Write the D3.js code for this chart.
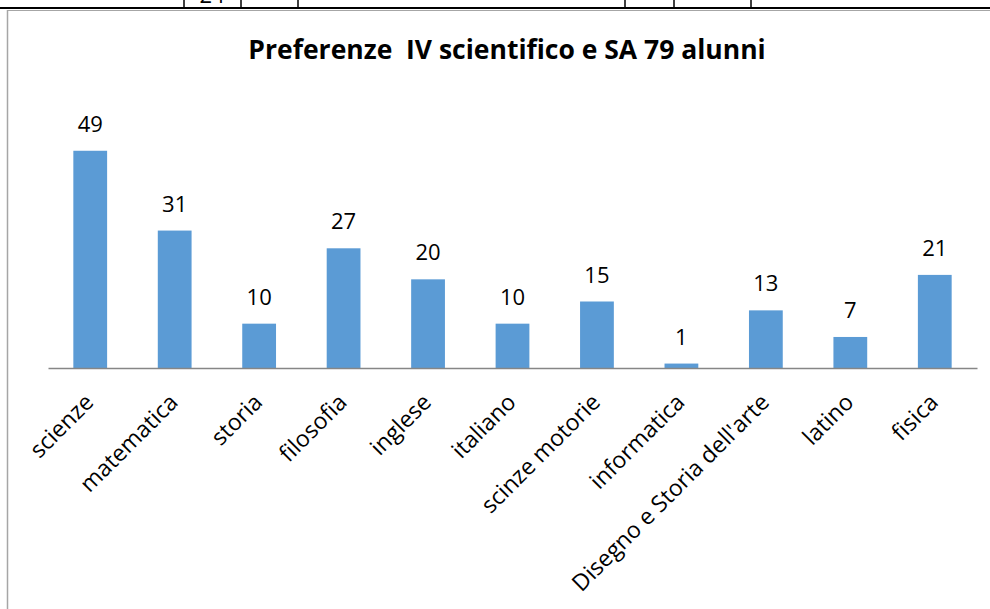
<!DOCTYPE html>
<html>
<head>
<script src="https://d3js.org/d3.v7.min.js"></script>
<style>
  body { margin: 0; background: white; }
  svg { display: block; }
</style>
</head>
<body>
<div id="chart"></div>
<script>
// data
const categories = ["scienze", "matematica", "storia", "filosofia", "inglese", "italiano",
                    "scinze motorie", "informatica", "Disegno e Storia dell'arte", "latino", "fisica"];
const values = [49, 31, 10, 27, 20, 10, 15, 1, 13, 7, 21];
const title = "Preferenze  IV scientifico e SA 79 alunni";

// bits of the table above the chart (page cut off)
const tableCols = [184, 241, 298, 625, 674, 751];

const W = 990, H = 609;
const svg = d3.select("#chart").append("svg")
  .attr("width", W)
  .attr("height", H);

// table fragment at the top
svg.append("line")
  .attr("x1", 0).attr("x2", W).attr("y1", 8).attr("y2", 8)
  .attr("stroke", "#000").attr("stroke-width", 2);
svg.selectAll(".tcol").data(tableCols).enter().append("line")
  .attr("x1", d => d).attr("x2", d => d).attr("y1", 0).attr("y2", 8)
  .attr("stroke", "#000").attr("stroke-width", 1.5);
svg.append("text")
  .attr("x", 212).attr("y", 3)
  .attr("text-anchor", "middle")
  .style("font-family", "Open Sans")
  .style("font-size", "22px")
  .text("24");

// chart frame (only top and left visible)
svg.append("line")
  .attr("x1", 7).attr("x2", W).attr("y1", 10.5).attr("y2", 10.5)
  .attr("stroke", "#a6a6a6").attr("stroke-width", 1);
svg.append("line")
  .attr("x1", 7.5).attr("x2", 7.5).attr("y1", 10).attr("y2", H)
  .attr("stroke", "#a6a6a6").attr("stroke-width", 1.5);

// title
svg.append("text")
  .attr("x", 507).attr("y", 59)
  .attr("text-anchor", "middle")
  .style("font-family", "Open Sans")
  .style("font-weight", "bold")
  .style("font-size", "26.5px")
  .style("white-space", "pre")
  .text(title);

// scales
const x = d3.scaleBand()
  .domain(categories)
  .range([48, 977])
  .paddingInner(0.6)
  .paddingOuter(0.3);

const y = d3.scaleLinear()
  .domain([0, 60])
  .range([368, 102]);

// bars
svg.append("g")
  .selectAll("rect")
  .data(values)
  .enter().append("rect")
  .attr("x", (d, i) => x(categories[i]))
  .attr("y", d => y(d))
  .attr("width", x.bandwidth())
  .attr("height", d => y(0) - y(d))
  .attr("fill", "#5b9bd5");

// value labels
svg.append("g")
  .selectAll("text")
  .data(values)
  .enter().append("text")
  .attr("x", (d, i) => x(categories[i]) + x.bandwidth() / 2)
  .attr("y", d => y(d) - 19)
  .attr("text-anchor", "middle")
  .style("font-family", "Open Sans")
  .style("font-size", "22px")
  .style("fill", "#000")
  .text(d => d);

// x axis
const xAxis = svg.append("g")
  .attr("transform", `translate(0,${y(0)})`)
  .call(d3.axisBottom(x).tickSize(0).tickSizeOuter(0));

xAxis.select(".domain")
  .attr("stroke", "#868686")
  .attr("stroke-width", 1.5);

xAxis.selectAll("text")
  .attr("text-anchor", "end")
  .attr("dy", "0.35em")
  .attr("y", 0)
  .attr("transform", "translate(-1,30) rotate(-45)")
  .style("font-family", "Open Sans")
  .style("font-size", "23px")
  .style("fill", "#000");
</script>
</body>
</html>
